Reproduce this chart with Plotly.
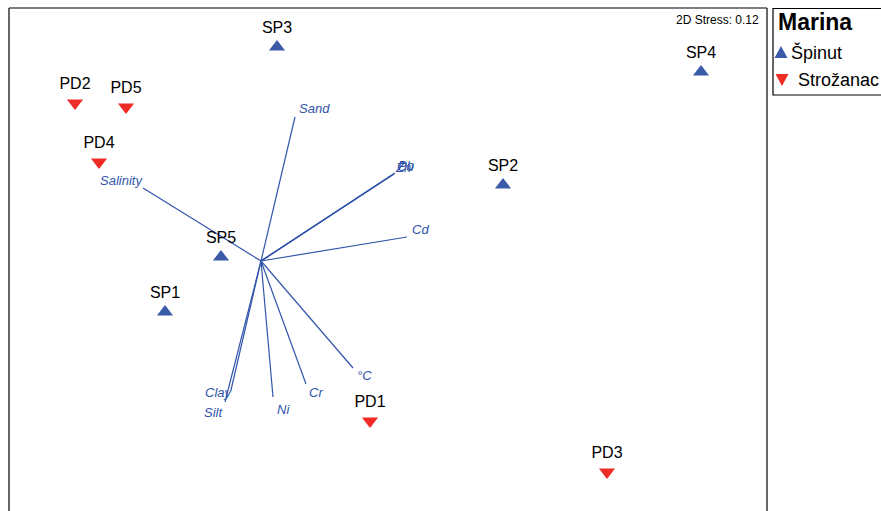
import plotly.graph_objects as go

# Sample scores (NMDS axes)
sp_names = ["SP1", "SP2", "SP3", "SP4", "SP5"]
sp_x = [-0.96, 2.42, 0.16, 4.40, -0.40]
sp_y = [-0.51, 0.76, 2.14, 1.89, 0.04]

pd_names = ["PD1", "PD2", "PD3", "PD4", "PD5"]
pd_x = [1.09, -1.86, 3.46, -1.62, -1.35]
pd_y = [-1.60, 1.58, -2.11, 0.99, 1.54]

# Environmental vectors (end points, origin at 0,0)
vec_names = ["Sand", "Cu", "Pb", "Zn", "Cd", "Salinity", "Clay", "Silt", "Ni", "Cr", "°C"]
vec_x = [0.34, 1.33, 1.34, 1.31, 1.46, -1.18, -0.30, -0.36, 0.12, 0.45, 0.92]
vec_y = [1.44, 0.87, 0.88, 0.86, 0.24, 0.73, -1.29, -1.41, -1.36, -1.23, -1.07]

# label pixel offsets (styling)
lab_dx = [19, 11, 11, 11, 13, -22, -12, -12, 10, 10, 11]
lab_dy = [9, 8, 8, 8, 8, 8, -2, -10, -12, -8, -7]

stress = 0.12
legend_title = "Marina"
group_names = ["Špinut", "Strožanac"]

BLUE = "#3a5aa8"
RED = "#ee2b24"
VEC = "#3155aa"
FONT = "Liberation Sans, Arial"

W, H = 881, 511
ML, MR, MT, MB = 9, 114, 8, 0
PW, PH = W - ML - MR, H - MT - MB


def px(xp):
    return (xp - ML) / PW


def py(yp):
    return 1 - (yp - MT) / PH


fig = go.Figure()

lx, ly = [], []
for x, y in zip(vec_x, vec_y):
    lx += [0, x, None]
    ly += [0, y, None]
fig.add_trace(go.Scatter(x=lx, y=ly, mode="lines", line=dict(color=VEC, width=1.2),
                         showlegend=False, hoverinfo="skip"))

fig.add_trace(go.Scatter(x=sp_x, y=sp_y, mode="markers+text", text=sp_names, name=group_names[0],
                         textposition="top center", showlegend=False,
                         textfont=dict(family=FONT, size=16, color="black"),
                         marker=dict(symbol="triangle-up", size=14, color=BLUE)))
fig.add_trace(go.Scatter(x=pd_x, y=pd_y, mode="markers+text", text=pd_names, name=group_names[1],
                         textposition="top center", showlegend=False,
                         textfont=dict(family=FONT, size=16, color="black"),
                         marker=dict(symbol="triangle-down", size=14, color=RED)))

for n, x, y, dx, dy in zip(vec_names, vec_x, vec_y, lab_dx, lab_dy):
    fig.add_annotation(x=x, y=y, text="<i>%s</i>" % n, showarrow=False, xshift=dx, yshift=dy,
                       font=dict(family=FONT, size=13, color=VEC))

fig.add_annotation(x=1, y=1, xref="paper", yref="paper", xanchor="right", yanchor="top",
                   xshift=-6, yshift=-3, showarrow=False, text="2D Stress: %.2f" % stress,
                   font=dict(family=FONT, size=12, color="black"))

# plot frame (left, top, right)
for (x0, y0, x1, y1) in [(0, 0, 0, 1), (0, 1, 1, 1), (1, 0, 1, 1)]:
    fig.add_shape(type="line", xref="paper", yref="paper", x0=x0, y0=y0, x1=x1, y1=y1,
                  line=dict(color="black", width=1.2))

# custom legend box
fig.add_shape(type="rect", xref="paper", yref="paper", x0=px(773), x1=px(900), y0=py(95), y1=py(8.5),
              line=dict(color="black", width=1.2), fillcolor="white")
fig.add_annotation(x=px(776), y=py(22), xref="paper", yref="paper", xanchor="left", yanchor="middle",
                   showarrow=False, text="<b>%s</b>" % legend_title,
                   font=dict(family=FONT, size=23, color="black"))


def tri(cx, cy, w, h, up):
    if up:
        pts = [(cx - w / 2, cy + h / 2), (cx + w / 2, cy + h / 2), (cx, cy - h / 2)]
    else:
        pts = [(cx - w / 2, cy - h / 2), (cx + w / 2, cy - h / 2), (cx, cy + h / 2)]
    return "M " + " L ".join("%.5f,%.5f" % (px(a), py(b)) for a, b in pts) + " Z"


fig.add_shape(type="path", xref="paper", yref="paper", path=tri(781, 52, 13, 12, True),
              fillcolor=BLUE, line=dict(width=0))
fig.add_shape(type="path", xref="paper", yref="paper", path=tri(782, 80, 13, 12, False),
              fillcolor=RED, line=dict(width=0))
fig.add_annotation(x=px(789), y=py(52), xref="paper", yref="paper", xanchor="left", yanchor="middle",
                   showarrow=False, text=group_names[0], font=dict(family=FONT, size=18, color="black"))
fig.add_annotation(x=px(796), y=py(80), xref="paper", yref="paper", xanchor="left", yanchor="middle",
                   showarrow=False, text=group_names[1], font=dict(family=FONT, size=18, color="black"))

fig.update_layout(
    width=W, height=H,
    margin=dict(l=ML, r=MR, t=MT, b=MB),
    plot_bgcolor="white", paper_bgcolor="white",
    showlegend=False,
    xaxis=dict(range=[-2.52, -2.52 + PW / 100], visible=False),
    yaxis=dict(range=[2.53 - PH / 100, 2.53], visible=False),
)

fig.write_html("out.html", config={"displayModeBar": False},
               post_script="document.body.style.margin='0';document.body.style.overflow='hidden';")
